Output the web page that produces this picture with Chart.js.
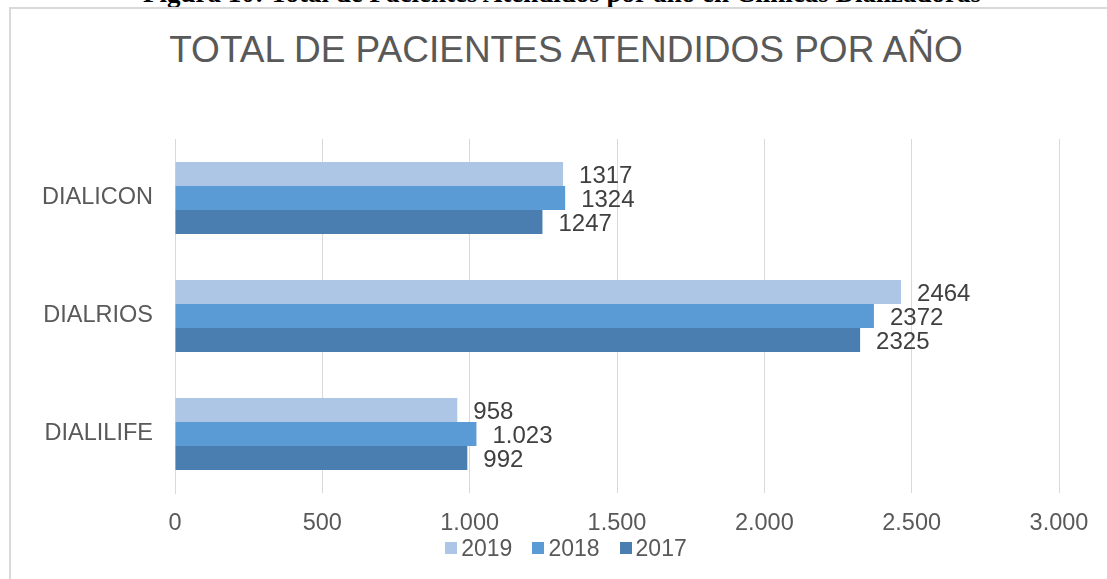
<!DOCTYPE html>
<html>
<head>
<meta charset="utf-8">
<script src="https://cdn.jsdelivr.net/npm/chart.js@4"></script>
<style>
  html, body { margin: 0; padding: 0; background: #fff; }
  body { width: 1107px; height: 579px; position: relative; overflow: hidden; }
  #caption {
    position: absolute; left: 0; width: 1124px; top: -20px; text-align: center;
    font: bold 27px/27px "Liberation Serif", "Times New Roman", serif; color: #000;
    white-space: nowrap;
  }
  #frame {
    position: absolute; left: 9px; top: 7px; width: 1120px; height: 600px;
    border-left: 2px solid #d9d9d9; border-top: 2px solid #d9d9d9;
  }
  #titulo {
    position: absolute; left: 0; width: 1132px; top: 28px; height: 44px; line-height: 44px;
    text-align: center; white-space: nowrap;
    font: 37px/44px "Liberation Sans", Arial, sans-serif; color: #595959;
  }
  #wrap { position: absolute; left: 0; top: 0; width: 1107px; height: 579px; }
  #leyenda {
    position: absolute; left: 0; width: 1132px; top: 534px; height: 28px;
    display: flex; justify-content: center; align-items: center;
    font: 23px "Liberation Sans", Arial, sans-serif; color: #595959;
  }
  .ley-item { display: flex; align-items: center; margin: 0 10px; }
  .ley-dot { width: 12px; height: 12px; margin-right: 4px; }
</style>
</head>
<body>
<div id="caption">Figura 10: Total de Pacientes Atendidos por año en Clínicas Dializadoras</div>
<div id="frame"></div>
<div id="titulo">TOTAL DE PACIENTES ATENDIDOS POR AÑO</div>
<div id="wrap"><canvas id="chart"></canvas></div>
<div id="leyenda"></div>
<script>
/* datos */
var clinicas = ['DIALICON', 'DIALRIOS', 'DIALILIFE'];
var anios    = ['2019', '2018', '2017'];
var v2019 = [1317, 2464, 958];
var v2018 = [1324, 2372, 1023];
var v2017 = [1247, 2325, 992];
var txt2019 = ['1317', '2464', '958'];
var txt2018 = ['1324', '2372', '1.023'];
var txt2017 = ['1247', '2325', '992'];
var xTicks = [0, 500, 1000, 1500, 2000, 2500, 3000];

var colores = ['#aec6e6', '#5b9bd5', '#4a7eb0'];
var TXT = '#595959';
var FONT = '"Liberation Sans", Arial, sans-serif';

function miles(v) {
    return String(v).replace(/\B(?=(\d{3})+(?!\d))/g, '.');
}

var etiquetas = {
    id: 'etiquetas',
    afterDatasetsDraw: function (chart) {
        var ctx = chart.ctx;
        ctx.save();
        ctx.font = '24px ' + FONT;
        ctx.fillStyle = '#404040';
        ctx.textBaseline = 'middle';
        ctx.textAlign = 'left';
        chart.data.datasets.forEach(function (ds, di) {
            var meta = chart.getDatasetMeta(di);
            meta.data.forEach(function (bar, i) {
                ctx.fillText(ds.textos[i], bar.x + 16, bar.y + 2);
            });
        });
        ctx.restore();
    }
};

new Chart(document.getElementById('chart'), {
    type: 'bar',
    data: {
        labels: clinicas,
        datasets: [
            { label: anios[0], data: v2019, textos: txt2019, backgroundColor: colores[0] },
            { label: anios[1], data: v2018, textos: txt2018, backgroundColor: colores[1] },
            { label: anios[2], data: v2017, textos: txt2017, backgroundColor: colores[2] }
        ]
    },
    options: {
        responsive: true,
        maintainAspectRatio: false,
        animation: false,
        indexAxis: 'y',
        datasets: { bar: { categoryPercentage: 0.61, barPercentage: 1.0 } },
        layout: { padding: { top: 139, right: 48, bottom: 46, left: 0 } },
        plugins: {
            title: { display: false },
            legend: { display: false },
            tooltip: { enabled: false }
        },
        scales: {
            x: {
                min: 0, max: 3000,
                afterBuildTicks: function (s) { s.ticks = xTicks.map(function (v) { return { value: v }; }); },
                afterFit: function (s) { s.height = 40; },
                grid: { color: '#d9d9d9', lineWidth: 1, drawTicks: false },
                border: { display: false },
                ticks: {
                    color: TXT, padding: 16,
                    font: { family: FONT, size: 23.5 },
                    callback: function (v) { return miles(v); }
                }
            },
            y: {
                afterFit: function (s) { s.width = 175; },
                grid: { display: false },
                border: { display: true, color: '#d9d9d9' },
                ticks: {
                    color: TXT, padding: 14,
                    font: { family: FONT, size: 23.5 }
                }
            }
        }
    },
    plugins: [etiquetas]
});

/* leyenda html */
var ley = document.getElementById('leyenda');
anios.forEach(function (a, i) {
    ley.innerHTML +=
        '<div class="ley-item">'
        + '<span class="ley-dot" style="background:' + colores[i] + '"></span>'
        + '<span>' + a + '</span>'
        + '</div>';
});
</script>
</body>
</html>
